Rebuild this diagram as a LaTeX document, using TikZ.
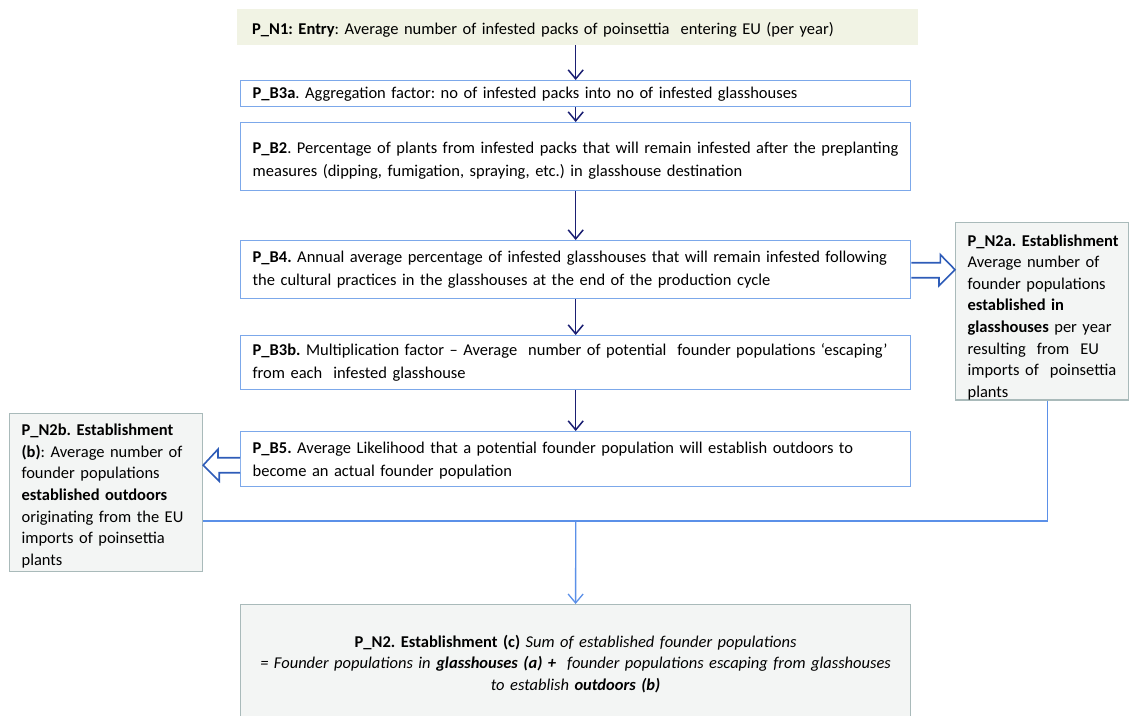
\documentclass[tikz,border=0pt]{standalone}
\usepackage{fontspec}
\setmainfont{Carlito}
\usetikzlibrary{arrows.meta,calc}
\definecolor{nofill}{HTML}{F1F3E4}
\definecolor{bblue}{HTML}{7CA8EA}
\definecolor{navy}{HTML}{1B1F72}
\definecolor{harblue}{HTML}{2E5CB8}
\definecolor{lblue}{HTML}{5B90E8}
\definecolor{gfill}{HTML}{F3F5F4}
\definecolor{gline}{HTML}{A9BABA}
\newcommand\pushdown[2]{\raisebox{0pt}[\dimexpr\height+#1\relax][\depth]{#2}}
\begin{document}
\frenchspacing
\begin{tikzpicture}[x=1pt,y=-1pt,
  txt/.style={font=\frenchspacing\fontsize{16.5}{23}\selectfont, align=left},
  bbox/.style={txt, draw=bblue, line width=1.4pt, fill=white, anchor=north west,
     inner xsep=12pt, inner ysep=0pt, text width=646pt},
  gbox/.style={font=\frenchspacing\fontsize{16.5}{21.6}\selectfont, align=left, draw=gline, line width=1.2pt, fill=gfill,
     anchor=north west, inner xsep=12pt, inner ysep=0pt},
  darr/.style={draw=navy, line width=1.5pt, -{Straight Barb[length=9pt,width=15pt,line width=1.5pt]}},
  harr/.style={draw=harblue, line width=1.6pt, fill=white, line join=miter},
  lconn/.style={draw=lblue, line width=1.3pt}
]
\useasboundingbox (0,0) rectangle (1130,715);
\node[txt, fill=nofill, anchor=north west, inner xsep=15pt, inner ysep=0pt, text width=651pt,
  minimum height=36pt] (n1) at (237,9)
  {\pushdown{6pt}{\textbf{P\_N1: Entry}: Average number of infested packs of poinsettia\ \ entering EU (per year)}};
\node[bbox, minimum height=26pt] (b3a) at (240,80)
  {\mbox{\textbf{P\_B3a}. Aggregation factor: no of infested packs into no of infested glasshouses}};
\node[bbox, minimum height=68pt] (b2) at (240,122)
  {\pushdown{8pt}{\textbf{P\_B2}. Percentage of plants from infested packs that will remain infested after the preplanting}\\
   \mbox{measures (dipping, fumigation, spraying, etc.) in glasshouse destination}};
\node[bbox, minimum height=58pt] (b4) at (240,240)
  {\mbox{\textbf{P\_B4.} Annual average percentage of infested glasshouses that will remain infested following}\\
   \mbox{the cultural practices in the glasshouses at the end of the production cycle}};
\node[bbox, minimum height=54pt] (b3b) at (240,335)
  {\mbox{\textbf{P\_B3b.} Multiplication factor -- Average\ \ number of potential\ \ founder populations ‘escaping’}\\
   \mbox{from each\ \ infested glasshouse}};
\node[bbox, minimum height=55pt] (b5) at (240,431)
  {\pushdown{2pt}{\textbf{P\_B5.} Average Likelihood that a potential founder population will establish outdoors to}\\
   \mbox{become an actual founder population}};
\node[gbox, minimum width=173pt, minimum height=177pt, text width=149pt] (n2a) at (955,222)
  {\pushdown{12pt}{\textbf{P\_N2a. Establishment}}\\
   \mbox{Average number of}\\
   \mbox{founder populations}\\
   \mbox{\textbf{established in}}\\
   \mbox{\textbf{glasshouses} per year}\\
   \mbox{resulting\ \ from\ \ EU}\\
   \mbox{imports of\ \ poinsettia}\\
   \mbox{plants}};
\node[gbox, minimum width=193pt, minimum height=158pt, text width=169pt] (n2b) at (9,413)
  {\pushdown{7pt}{\textbf{P\_N2b. Establishment}}\\
   \mbox{\textbf{(b)}: Average number of}\\
   \mbox{founder populations}\\
   \mbox{\textbf{established outdoors}}\\
   \mbox{originating from the EU}\\
   \mbox{imports of poinsettia}\\
   \mbox{plants}};
\node[gbox, align=center, minimum width=670pt, minimum height=113pt, text width=646pt] (n2) at (240,604)
  {\pushdown{6pt}{\textbf{P\_N2. Establishment (c)} \textit{Sum of established founder populations}}\\
   \textit{= Founder populations in \textbf{glasshouses (a) +}\ \ founder populations escaping from glasshouses}\\
   \textit{to establish \textbf{outdoors (b)}}};
% main arrows
\draw[darr] (n1.south -| b3a.north) -- (b3a.north);
\draw[darr] (b3a.south) -- (b2.north);
\draw[darr] (b2.south) -- (b4.north);
\draw[darr] (b4.south) -- (b3b.north);
\draw[darr] (b3b.south) -- (b5.north);
% hollow arrows
\draw[harr] ($(b4.east)+(0,-7)$) -- ++(29,0) -- ++(0,-8) -- (n2a.west |- b4.east)
   -- ++(-16,16) -- ++(0,-8) -- ($(b4.east)+(0,8)$);
\coordinate (b5a) at ($(b5.west)+(0,6)$);
\draw[harr] ($(b5a)+(0,-7.5)$) -- ++(-22,0) -- ++(0,-8.5) -- (n2b.east |- b5a)
   -- ++(16,16) -- ++(0,-8.5) -- ($(b5a)+(0,7.5)$);
% light connectors
\coordinate (j) at (b5.south |- 0,521);
\draw[lconn] ($(n2a.south)+(5.5,0)$) |- (n2b.east |- j);
\draw[lconn, -{Straight Barb[length=9pt,width=15pt,line width=1.3pt]}] (j) -- (n2.north);
\end{tikzpicture}
\end{document}
